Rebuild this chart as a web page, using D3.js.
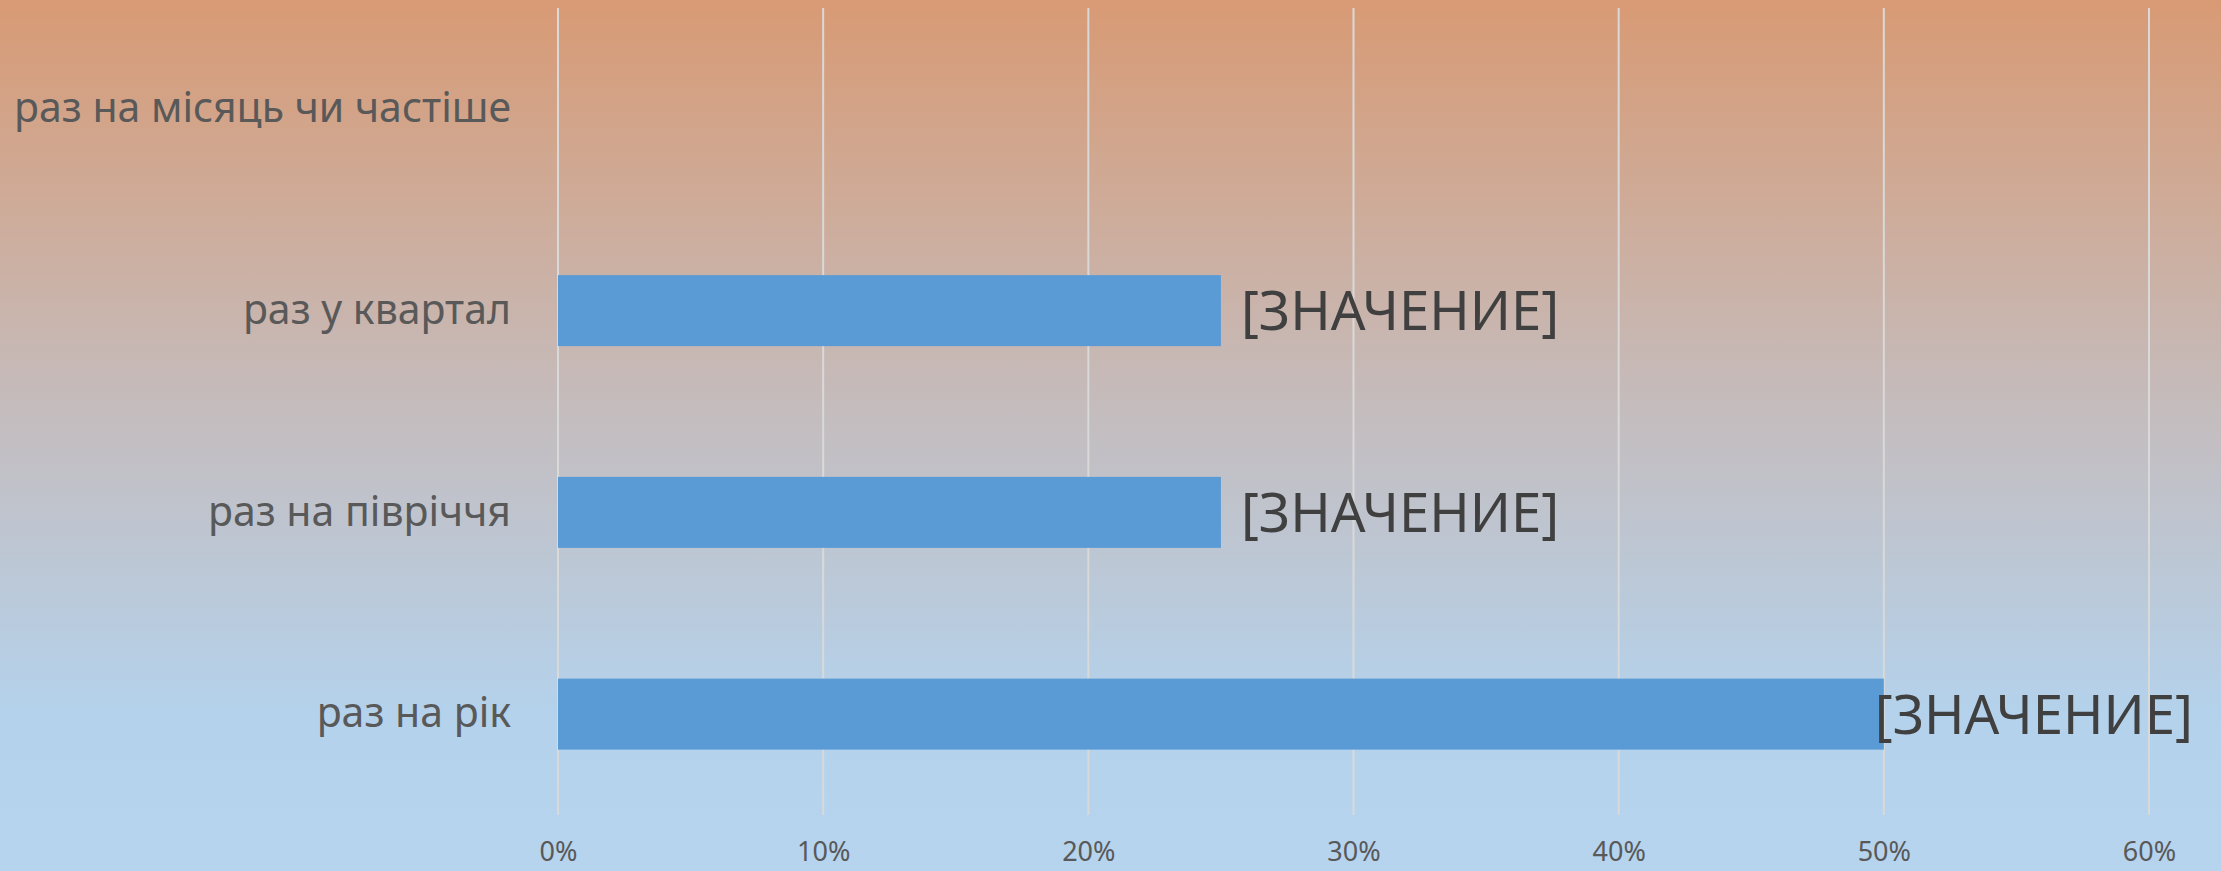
<!DOCTYPE html>
<html>
<head>
<meta charset="utf-8">
<script src="https://cdn.jsdelivr.net/npm/d3@7"></script>
<style>
  html, body { margin: 0; padding: 0; }
  svg { display: block; }
</style>
</head>
<body>
<svg id="chart" width="2221" height="871"></svg>
<script>
// дані
const categories = ["раз на місяць чи частіше", "раз у квартал", "раз на півріччя", "раз на рік"];
const values = [0, 0.25, 0.25, 0.5];
const labelText = "[ЗНАЧЕНИЕ]";
const xTicks = [0, 0.1, 0.2, 0.3, 0.4, 0.5, 0.6];

const svg = d3.select("#chart");
const W = +svg.attr("width");
const H = +svg.attr("height");

// фон - градієнт
const defs = svg.append("defs");
const grad = defs.append("linearGradient")
  .attr("id", "bg")
  .attr("x1", 0).attr("y1", 0).attr("x2", 0).attr("y2", 1);
grad.append("stop").attr("offset", "0%").attr("stop-color", "#d89a74");
grad.append("stop").attr("offset", "48%").attr("stop-color", "#c4bdbf");
grad.append("stop").attr("offset", "82%").attr("stop-color", "#b4d2ec");
grad.append("stop").attr("offset", "100%").attr("stop-color", "#b6d4ee");

svg.append("rect")
  .attr("width", W).attr("height", H)
  .attr("fill", "url(#bg)");

const plotL = 558, plotR = 2149, plotT = 8, plotB = 815;

const x = d3.scaleLinear().domain([0, 0.6]).range([plotL, plotR]);
const y = d3.scaleBand()
  .domain(categories)
  .range([plotT, plotB])
  .paddingInner(0.648)
  .paddingOuter(0.324);

// сітка
svg.append("g")
  .selectAll("line")
  .data(xTicks)
  .join("line")
  .attr("x1", d => x(d)).attr("x2", d => x(d))
  .attr("y1", plotT).attr("y2", plotB)
  .attr("stroke", "#d9d9d9")
  .attr("stroke-width", 2);

// вісь X
const xAxis = svg.append("g")
  .attr("transform", `translate(0,${plotB})`)
  .call(d3.axisBottom(x).tickValues(xTicks).tickFormat(d3.format(".0%")).tickSize(0).tickPadding(27));
xAxis.select(".domain").remove();
xAxis.selectAll("text")
  .attr("fill", "#595959")
  .style("font-family", "'Noto Sans', sans-serif")
  .style("font-size", "27px");

// вісь Y
const yAxis = svg.append("g")
  .attr("transform", `translate(${plotL},0)`)
  .call(d3.axisLeft(y).tickSize(0).tickPadding(47));
yAxis.select(".domain").remove();
yAxis.selectAll("text")
  .attr("fill", "#595959")
  .style("font-family", "'Noto Sans', sans-serif")
  .style("font-size", "41px");

// стовпці
const data = categories.map((c, i) => ({ cat: c, val: values[i] }));

svg.append("g")
  .selectAll("rect")
  .data(data.filter(d => d.val > 0))
  .join("rect")
  .attr("x", x(0))
  .attr("y", d => y(d.cat))
  .attr("width", d => x(d.val) - x(0))
  .attr("height", y.bandwidth())
  .attr("fill", "#5b9bd5");

// підписи значень
const labels = svg.append("g")
  .selectAll("text")
  .data(data.filter(d => d.val > 0))
  .join("text")
  .attr("y", d => y(d.cat) + y.bandwidth() / 2)
  .attr("dy", "0.36em")
  .attr("fill", "#404040")
  .style("font-family", "'Noto Sans', sans-serif")
  .style("font-size", "54.5px")
  .text(labelText);

labels.each(function (d) {
  const tw = this.getComputedTextLength();
  const xs = Math.min(x(d.val) + 20, W - 28 - tw);
  d3.select(this).attr("x", xs);
});
</script>
</body>
</html>
